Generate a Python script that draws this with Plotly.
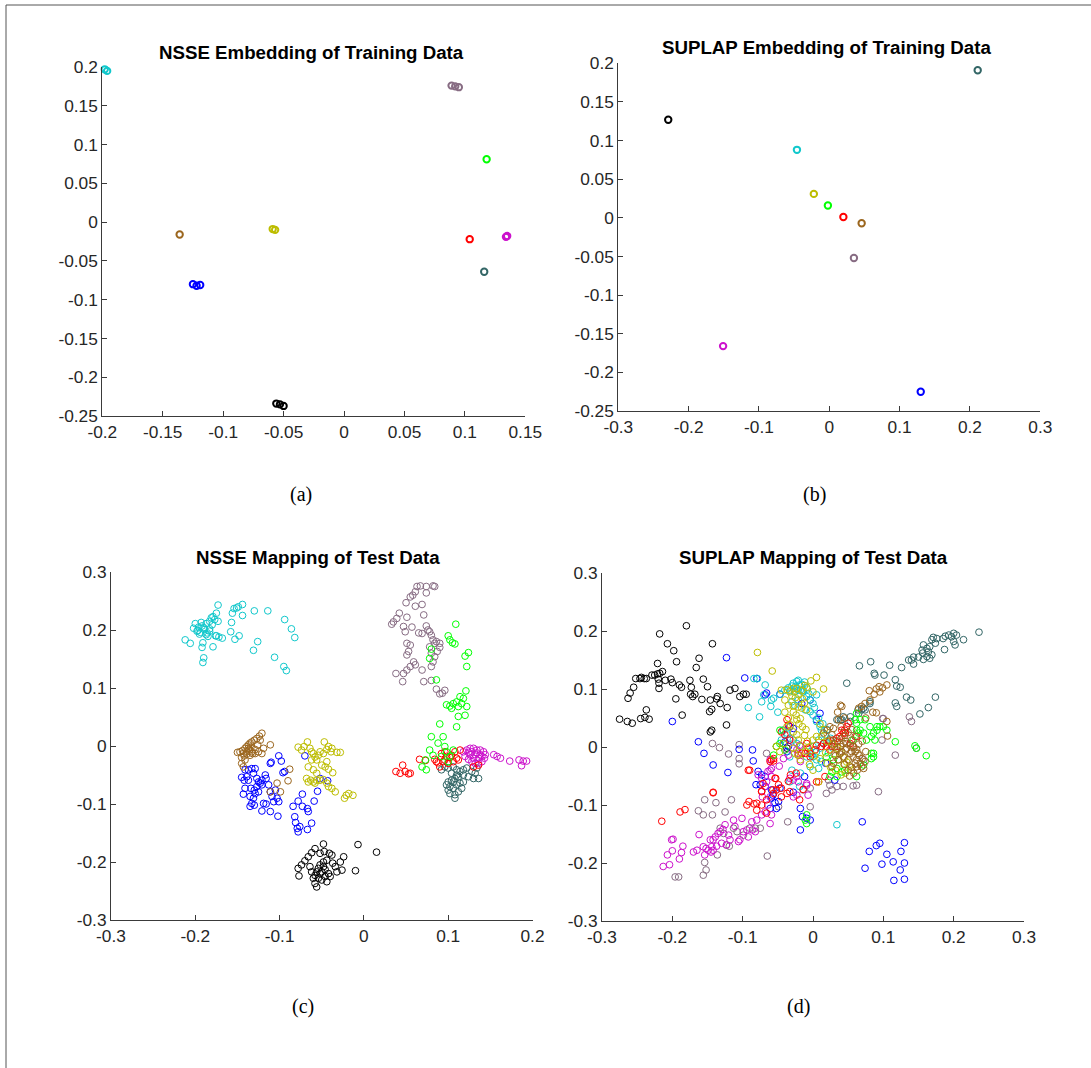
import plotly.graph_objects as go

W, H = 1091, 1068

# ---------------- class colours ----------------
CLASS_NAMES = ["black", "mauve", "teal", "blue", "cyan", "magenta", "red", "green", "olive", "brown"]
CLASS_COLORS = {
    "cyan": "#11C8CC", "brown": "#9B661E", "olive": "#BDBD00", "blue": "#0000FF",
    "black": "#000000", "mauve": "#876C83", "green": "#00FF00", "red": "#FF0000",
    "magenta": "#CC11CC", "teal": "#336666",
}

# ---------------- (a) NSSE embedding of training data ----------------
a_cyan = [(-0.198, 0.197), (-0.196, 0.195)]
a_mauve = [(0.089, 0.176), (0.092, 0.175), (0.095, 0.174)]
a_green = [(0.118, 0.081)]
a_brown = [(-0.136, -0.016)]
a_olive = [(-0.059, -0.009), (-0.057, -0.010)]
a_red = [(0.104, -0.022)]
a_magenta = [(0.134, -0.019), (0.135, -0.018)]
a_teal = [(0.116, -0.064)]
a_blue = [(-0.125, -0.080), (-0.122, -0.082), (-0.119, -0.081)]
a_black = [(-0.056, -0.234), (-0.053, -0.235), (-0.050, -0.237)]

# ---------------- (b) SUPLAP embedding of training data ----------------
b_teal = [(0.211, 0.191)]
b_black = [(-0.229, 0.127)]
b_cyan = [(-0.046, 0.088)]
b_olive = [(-0.022, 0.031)]
b_green = [(-0.002, 0.016)]
b_red = [(0.020, 0.001)]
b_brown = [(0.046, -0.007)]
b_mauve = [(0.035, -0.052)]
b_magenta = [(-0.151, -0.166)]
b_blue = [(0.130, -0.225)]

# ---------------- (c) NSSE mapping of test data ----------------
c_cyan = [(-0.212, 0.183), (-0.206, 0.177), (-0.202, 0.203), (-0.200, 0.211), (-0.198, 0.198),
          (-0.195, 0.193), (-0.193, 0.213), (-0.192, 0.207), (-0.190, 0.204), (-0.187, 0.211),
          (-0.192, 0.170), (-0.191, 0.178), (-0.191, 0.144), (-0.190, 0.152), (-0.187, 0.192),
          (-0.185, 0.189), (-0.183, 0.202), (-0.183, 0.215), (-0.181, 0.221), (-0.180, 0.209),
          (-0.179, 0.171), (-0.179, 0.223), (-0.177, 0.218), (-0.176, 0.190), (-0.175, 0.229),
          (-0.173, 0.215), (-0.173, 0.243), (-0.175, 0.190), (-0.172, 0.188), (-0.168, 0.186),
          (-0.158, 0.197), (-0.157, 0.213), (-0.156, 0.229), (-0.154, 0.237), (-0.153, 0.184),
          (-0.151, 0.238), (-0.149, 0.240), (-0.148, 0.190), (-0.144, 0.244), (-0.144, 0.225),
          (-0.131, 0.165), (-0.130, 0.233), (-0.126, 0.180), (-0.114, 0.233), (-0.106, 0.153),
          (-0.094, 0.218), (-0.095, 0.137), (-0.092, 0.130), (-0.086, 0.202), (-0.082, 0.187),
          (-0.197, 0.199), (-0.194, 0.196), (-0.189, 0.201), (-0.186, 0.195), (-0.183, 0.198),
          (-0.196, 0.205)]
c_brown = [(-0.150, -0.011), (-0.147, -0.010), (-0.144, -0.008), (-0.141, -0.004), (-0.139, -0.001),
           (-0.137, 0.002), (-0.135, 0.005), (-0.133, 0.007), (-0.130, 0.010), (-0.127, 0.013),
           (-0.124, 0.017), (-0.121, 0.022), (-0.123, 0.010), (-0.126, 0.002), (-0.129, -0.006),
           (-0.132, -0.013), (-0.135, -0.016), (-0.139, -0.014), (-0.142, -0.017), (-0.145, -0.020),
           (-0.136, -0.007), (-0.133, -0.010), (-0.129, -0.013), (-0.125, -0.010), (-0.121, -0.013),
           (-0.119, -0.004), (-0.111, 0.002), (-0.145, -0.030), (-0.143, -0.036), (-0.141, -0.024),
           (-0.088, -0.040), (-0.090, -0.060), (-0.103, -0.064), (-0.099, -0.079), (-0.111, -0.079),
           (-0.137, -0.004), (-0.134, -0.002), (-0.139, -0.010), (-0.143, -0.013)]
c_blue = [(-0.145, -0.054), (-0.142, -0.059), (-0.139, -0.053), (-0.137, -0.059), (-0.141, -0.041),
          (-0.137, -0.041), (-0.133, -0.039), (-0.129, -0.039), (-0.131, -0.047), (-0.127, -0.056),
          (-0.125, -0.062), (-0.123, -0.064), (-0.121, -0.059), (-0.117, -0.050), (-0.116, -0.056),
          (-0.127, -0.070), (-0.130, -0.076), (-0.134, -0.073), (-0.141, -0.073), (-0.143, -0.083),
          (-0.135, -0.087), (-0.131, -0.090), (-0.133, -0.099), (-0.135, -0.104), (-0.130, -0.102),
          (-0.125, -0.079), (-0.121, -0.067), (-0.113, -0.067), (-0.111, -0.079), (-0.109, -0.087),
          (-0.105, -0.076), (-0.103, -0.090), (-0.101, -0.096), (-0.107, -0.096), (-0.119, -0.099),
          (-0.116, -0.100), (-0.121, -0.112), (-0.111, -0.113), (-0.102, -0.121), (-0.129, -0.082),
          (-0.111, -0.030), (-0.110, -0.028), (-0.101, -0.017), (-0.098, -0.026), (-0.096, -0.046),
          (-0.094, -0.044), (-0.070, -0.017), (-0.052, -0.056), (-0.043, -0.060), (-0.055, -0.078),
          (-0.059, -0.095), (-0.073, -0.083), (-0.078, -0.095), (-0.084, -0.104), (-0.073, -0.104),
          (-0.067, -0.108), (-0.066, -0.113), (-0.082, -0.122), (-0.081, -0.132), (-0.079, -0.142),
          (-0.078, -0.148), (-0.067, -0.144), (-0.062, -0.133), (-0.076, -0.139)]
c_olive = [(-0.078, -0.002), (-0.074, -0.007), (-0.071, -0.001), (-0.067, 0.007), (-0.064, -0.004),
           (-0.062, -0.010), (-0.060, -0.013), (-0.058, -0.019), (-0.056, -0.024), (-0.054, -0.016),
           (-0.052, -0.010), (-0.048, -0.013), (-0.047, 0.007), (-0.044, -0.006), (-0.042, -0.001),
           (-0.039, -0.010), (-0.038, -0.004), (-0.032, -0.011), (-0.028, -0.011), (-0.044, -0.027),
           (-0.050, -0.033), (-0.046, -0.036), (-0.042, -0.040), (-0.037, -0.046), (-0.068, -0.056),
           (-0.066, -0.062), (-0.063, -0.059), (-0.060, -0.062), (-0.058, -0.064), (-0.056, -0.059),
           (-0.052, -0.059), (-0.048, -0.058), (-0.044, -0.064), (-0.042, -0.070), (-0.038, -0.073),
           (-0.034, -0.079), (-0.023, -0.090), (-0.021, -0.085), (-0.018, -0.082), (-0.013, -0.085),
           (-0.062, -0.024), (-0.066, -0.036), (-0.060, -0.041), (-0.056, -0.047)]
c_black = [(-0.077, -0.224), (-0.078, -0.211), (-0.074, -0.205), (-0.070, -0.198), (-0.066, -0.191),
           (-0.062, -0.184), (-0.058, -0.177), (-0.048, -0.169), (-0.052, -0.185), (-0.047, -0.182),
           (-0.041, -0.185), (-0.038, -0.188), (-0.024, -0.191), (-0.028, -0.200), (-0.037, -0.202),
           (-0.034, -0.208), (-0.032, -0.217), (-0.026, -0.214), (-0.044, -0.197), (-0.048, -0.200),
           (-0.052, -0.205), (-0.054, -0.211), (-0.056, -0.217), (-0.058, -0.223), (-0.060, -0.228),
           (-0.058, -0.237), (-0.056, -0.243), (-0.050, -0.231), (-0.046, -0.225), (-0.042, -0.220),
           (-0.040, -0.225), (-0.044, -0.234), (-0.052, -0.220), (-0.062, -0.217), (-0.064, -0.208),
           (-0.010, -0.215), (-0.007, -0.170), (0.015, -0.183), (-0.048, -0.208), (-0.050, -0.217),
           (-0.046, -0.213), (-0.054, -0.228)]
c_mauve = [(0.063, 0.275), (0.067, 0.276), (0.074, 0.275), (0.082, 0.276), (0.084, 0.275),
           (0.074, 0.264), (0.061, 0.266), (0.058, 0.260), (0.055, 0.257), (0.050, 0.247),
           (0.061, 0.241), (0.069, 0.244), (0.071, 0.226), (0.051, 0.222), (0.042, 0.229),
           (0.039, 0.220), (0.035, 0.214), (0.033, 0.210), (0.047, 0.206), (0.049, 0.197),
           (0.057, 0.205), (0.065, 0.195), (0.069, 0.194), (0.074, 0.207), (0.076, 0.200),
           (0.078, 0.197), (0.080, 0.191), (0.082, 0.183), (0.084, 0.177), (0.086, 0.180),
           (0.090, 0.177), (0.090, 0.170), (0.087, 0.163), (0.084, 0.154), (0.082, 0.145),
           (0.080, 0.137), (0.051, 0.177), (0.055, 0.174), (0.053, 0.163), (0.051, 0.157),
           (0.059, 0.145), (0.061, 0.140), (0.055, 0.137), (0.051, 0.131), (0.047, 0.125),
           (0.046, 0.111), (0.038, 0.125), (0.069, 0.131), (0.071, 0.111), (0.080, 0.113),
           (0.086, 0.098), (0.090, 0.090), (0.096, 0.096), (0.093, 0.091), (0.078, 0.171),
           (0.080, 0.160)]
c_green = [(0.109, 0.210), (0.100, 0.190), (0.102, 0.183), (0.105, 0.178), (0.108, 0.176),
           (0.080, 0.167), (0.078, 0.151), (0.124, 0.161), (0.120, 0.155), (0.122, 0.137),
           (0.086, 0.114), (0.121, 0.095), (0.114, 0.085), (0.118, 0.082), (0.110, 0.076),
           (0.106, 0.073), (0.102, 0.069), (0.098, 0.071), (0.104, 0.065), (0.112, 0.068),
           (0.116, 0.073), (0.122, 0.068), (0.120, 0.053), (0.112, 0.051), (0.110, 0.033),
           (0.090, 0.038), (0.080, 0.016), (0.094, 0.016), (0.088, 0.005), (0.078, -0.007),
           (0.082, -0.016), (0.073, -0.024), (0.069, -0.036), (0.074, -0.041), (0.092, -0.018),
           (0.098, -0.010), (0.102, -0.018), (0.100, -0.027), (0.106, -0.007), (0.096, -0.001)]
c_red = [(0.046, -0.033), (0.038, -0.044), (0.043, -0.047), (0.049, -0.044), (0.053, -0.048),
         (0.055, -0.047), (0.066, -0.023), (0.073, -0.025), (0.084, -0.023), (0.088, -0.029),
         (0.092, -0.013), (0.096, -0.010), (0.098, -0.018), (0.104, -0.016), (0.108, -0.010),
         (0.110, -0.021), (0.112, -0.024), (0.094, -0.027), (0.100, -0.030), (0.106, -0.027),
         (0.114, -0.007), (0.130, -0.036), (0.136, -0.033), (0.090, -0.036), (0.086, -0.027),
         (0.102, -0.020), (0.096, -0.024)]
c_magenta = [(0.118, -0.010), (0.122, -0.007), (0.126, -0.004), (0.130, -0.004), (0.134, -0.007),
             (0.138, -0.007), (0.142, -0.010), (0.144, -0.015), (0.143, -0.021), (0.140, -0.027),
             (0.136, -0.030), (0.132, -0.030), (0.128, -0.027), (0.124, -0.023), (0.120, -0.018),
             (0.126, -0.015), (0.132, -0.015), (0.138, -0.015), (0.130, -0.021), (0.136, -0.021),
             (0.124, -0.011), (0.154, -0.015), (0.158, -0.018), (0.162, -0.021), (0.173, -0.026),
             (0.184, -0.024), (0.189, -0.026), (0.193, -0.026), (0.187, -0.034), (0.128, -0.010),
             (0.134, -0.012), (0.140, -0.018)]
c_teal = [(0.096, -0.036), (0.100, -0.038), (0.106, -0.036), (0.110, -0.041), (0.114, -0.044),
          (0.118, -0.041), (0.122, -0.038), (0.128, -0.044), (0.132, -0.047), (0.136, -0.056),
          (0.130, -0.056), (0.124, -0.053), (0.118, -0.050), (0.112, -0.053), (0.108, -0.056),
          (0.104, -0.059), (0.100, -0.062), (0.098, -0.067), (0.102, -0.070), (0.106, -0.073),
          (0.110, -0.067), (0.114, -0.064), (0.118, -0.062), (0.116, -0.073), (0.112, -0.079),
          (0.108, -0.084), (0.102, -0.082), (0.108, -0.090), (0.100, -0.076), (0.134, -0.038),
          (0.092, -0.041), (0.104, -0.047), (0.110, -0.050), (0.106, -0.062)]

# ---------------- (d) SUPLAP mapping of test data ----------------
d_black = [(-0.275, 0.048), (-0.264, 0.044), (-0.257, 0.041), (-0.245, 0.049), (-0.239, 0.051),
           (-0.233, 0.048), (-0.237, 0.064), (-0.263, 0.084), (-0.260, 0.093), (-0.255, 0.103),
           (-0.252, 0.118), (-0.246, 0.118), (-0.244, 0.120), (-0.240, 0.118), (-0.237, 0.118),
           (-0.229, 0.124), (-0.225, 0.124), (-0.221, 0.126), (-0.218, 0.127), (-0.214, 0.130),
           (-0.220, 0.117), (-0.210, 0.115), (-0.202, 0.117), (-0.200, 0.111), (-0.190, 0.107),
           (-0.187, 0.103), (-0.175, 0.115), (-0.173, 0.103), (-0.174, 0.091), (-0.171, 0.087),
           (-0.168, 0.091), (-0.158, 0.082), (-0.150, 0.104), (-0.156, 0.117), (-0.162, 0.153),
           (-0.166, 0.137), (-0.194, 0.147), (-0.198, 0.166), (-0.207, 0.178), (-0.218, 0.195),
           (-0.221, 0.144), (-0.219, 0.101), (-0.195, 0.083), (-0.186, 0.055), (-0.180, 0.209),
           (-0.143, 0.178), (-0.146, 0.081), (-0.144, 0.065), (-0.147, 0.061), (-0.144, 0.029),
           (-0.146, 0.026), (-0.137, 0.083), (-0.136, 0.087), (-0.132, 0.075), (-0.122, 0.068),
           (-0.123, 0.038), (-0.118, 0.098), (-0.111, 0.101), (-0.104, 0.087), (-0.099, 0.091),
           (-0.095, 0.091), (-0.219, 0.110), (-0.037, -0.002)]
d_teal = [(0.236, 0.198), (0.214, 0.185), (0.204, 0.193), (0.200, 0.196), (0.197, 0.190),
          (0.193, 0.193), (0.188, 0.191), (0.185, 0.187), (0.200, 0.182), (0.202, 0.176),
          (0.187, 0.168), (0.176, 0.187), (0.171, 0.189), (0.169, 0.185), (0.174, 0.179),
          (0.166, 0.173), (0.162, 0.170), (0.157, 0.176), (0.155, 0.167), (0.156, 0.162),
          (0.162, 0.156), (0.166, 0.153), (0.169, 0.159), (0.164, 0.164), (0.157, 0.151),
          (0.150, 0.155), (0.143, 0.155), (0.140, 0.150), (0.143, 0.143), (0.136, 0.150),
          (0.126, 0.137), (0.109, 0.141), (0.101, 0.124), (0.087, 0.127), (0.088, 0.124),
          (0.082, 0.147), (0.066, 0.140), (0.048, 0.110), (0.117, 0.116), (0.119, 0.105),
          (0.124, 0.103), (0.133, 0.086), (0.139, 0.081), (0.117, 0.076), (0.119, 0.070),
          (0.152, 0.057), (0.164, 0.068), (0.174, 0.086), (0.072, 0.067), (0.069, 0.064),
          (0.065, 0.058), (0.039, 0.047), (0.053, 0.052), (0.081, 0.075), (0.074, 0.064),
          (0.064, 0.064), (0.081, 0.078), (0.043, 0.052), (0.034, 0.047), (0.041, 0.047),
          (0.053, 0.044)]
d_olive = [(-0.079, 0.163), (-0.058, 0.131), (-0.045, 0.098), (-0.037, 0.099), (-0.033, 0.095),
           (-0.028, 0.101), (-0.023, 0.101), (-0.016, 0.097), (-0.009, 0.103), (-0.003, 0.114),
           (-0.040, 0.081), (-0.035, 0.072), (-0.028, 0.071), (-0.021, 0.069), (-0.016, 0.067),
           (-0.009, 0.064), (-0.037, 0.035), (-0.032, 0.038), (-0.023, 0.047), (-0.018, 0.049),
           (-0.028, 0.026), (-0.023, 0.021), (-0.021, 0.012), (-0.018, 0.001), (-0.021, -0.014),
           (-0.018, -0.022), (0.000, 0.012), (0.005, 0.018), (-0.042, 0.006), (-0.052, 0.001),
           (-0.047, -0.008), (-0.028, -0.002), (-0.026, -0.011), (0.012, 0.018), (0.020, 0.010),
           (0.028, 0.005), (0.035, -0.002), (0.040, -0.010), (0.045, -0.018), (0.048, -0.026),
           (0.052, -0.033), (0.044, -0.030), (0.036, -0.022), (0.030, -0.012), (0.055, -0.040),
           (0.046, -0.045), (0.010, 0.040), (0.016, 0.030), (0.005, 0.120), (0.015, 0.100),
           (-0.005, -0.030), (0.000, -0.040), (0.008, -0.060), (-0.030, 0.088), (-0.025, 0.085),
           (-0.020, 0.090), (-0.015, 0.083), (-0.012, 0.076), (-0.028, 0.060), (-0.024, 0.055),
           (-0.020, 0.040), (-0.015, 0.035), (-0.010, 0.030), (-0.012, 0.020), (-0.008, 0.010),
           (-0.005, 0.000), (-0.010, -0.008), (0.002, -0.015), (0.010, -0.020), (0.020, -0.028),
           (0.025, -0.035), (0.032, -0.040), (0.040, -0.048), (0.018, -0.010), (-0.035, 0.050),
           (-0.040, 0.060), (-0.012, 0.106), (0.000, 0.095)]
d_brown = [(0.080, 0.097), (0.094, 0.104), (0.105, 0.107), (0.099, 0.102), (0.087, 0.091),
           (0.081, 0.081), (0.074, 0.075), (0.069, 0.070), (0.065, 0.067), (0.090, 0.059),
           (0.105, 0.044), (0.106, 0.019), (0.039, 0.072), (0.041, 0.070), (0.036, 0.047),
           (0.024, 0.035), (0.029, 0.032), (0.020, 0.029), (0.015, 0.024), (0.027, 0.021),
           (0.024, 0.012), (0.031, 0.006), (0.039, 0.001), (0.046, -0.005), (0.053, -0.011),
           (0.057, -0.017), (0.062, -0.022), (0.067, -0.028), (0.048, 0.006), (0.055, 0.012),
           (0.060, 0.018), (0.043, -0.017), (0.036, -0.022), (0.029, -0.028), (0.050, -0.022),
           (0.041, -0.008), (0.034, -0.005), (0.048, -0.002), (0.053, 0.003), (0.043, 0.006),
           (0.055, -0.008), (0.060, -0.008), (0.064, -0.011), (0.069, -0.034), (0.072, -0.037),
           (0.062, -0.034), (0.027, -0.034), (0.045, 0.050), (0.035, 0.060), (0.090, 0.100),
           (0.095, 0.095), (0.030, 0.000), (0.035, 0.010), (0.040, 0.015), (0.045, 0.020),
           (0.050, 0.025), (0.055, 0.030), (0.058, 0.000), (0.062, -0.004), (0.066, -0.015),
           (0.070, -0.020), (0.074, -0.025), (0.060, -0.028), (0.055, -0.035), (0.050, -0.040),
           (0.045, -0.030), (0.038, -0.012), (0.032, -0.015), (0.065, 0.005), (0.070, 0.010),
           (0.075, -0.008), (0.052, -0.050), (0.058, -0.045), (0.063, -0.040), (0.046, 0.010),
           (0.040, 0.035), (0.075, 0.050), (0.085, 0.060)]
d_cyan = [(-0.084, 0.118), (-0.079, 0.118), (-0.068, 0.107), (-0.073, 0.078), (-0.092, 0.068),
          (-0.076, 0.052), (-0.059, 0.081), (-0.056, 0.084), (-0.047, 0.091), (-0.040, 0.098),
          (-0.033, 0.097), (-0.023, 0.101), (-0.021, 0.115), (-0.018, 0.098), (-0.014, 0.095),
          (-0.009, 0.087), (-0.004, 0.081), (0.000, 0.075), (0.005, 0.090), (-0.030, 0.078),
          (-0.026, 0.072), (-0.021, 0.081), (-0.043, 0.029), (-0.037, 0.024), (-0.028, 0.012),
          (-0.023, 0.006), (-0.018, 0.001), (-0.033, -0.017), (-0.030, -0.040), (-0.018, -0.045),
          (0.000, -0.017), (0.005, -0.022), (-0.004, -0.034), (-0.023, 0.113), (-0.019, 0.107),
          (-0.021, 0.098), (-0.026, 0.095), (-0.014, 0.098), (-0.011, 0.064), (-0.004, 0.061),
          (0.000, 0.055), (0.005, 0.044), (0.010, 0.035), (0.012, 0.029), (0.017, 0.021),
          (0.008, 0.012), (0.000, 0.001), (-0.004, -0.008), (-0.009, -0.017), (-0.002, -0.014),
          (0.005, -0.008), (0.010, -0.002), (0.015, 0.006), (0.019, 0.009), (0.008, -0.037),
          (-0.033, -0.060), (-0.019, -0.068), (0.034, -0.134), (-0.037, 0.021), (-0.045, 0.012),
          (-0.030, 0.105), (-0.028, 0.110), (-0.025, 0.104), (-0.016, 0.108), (-0.012, 0.112),
          (-0.035, 0.102), (-0.008, 0.100), (-0.006, 0.092), (0.002, 0.068), (0.008, 0.050),
          (0.014, 0.040), (0.020, 0.030), (0.025, 0.015), (0.028, 0.005), (0.022, -0.010),
          (0.012, -0.025), (-0.050, 0.060), (-0.060, 0.070), (-0.070, 0.090)]
d_blue = [(-0.123, 0.154), (-0.097, 0.119), (-0.080, 0.118), (-0.068, 0.090), (-0.066, 0.093),
          (-0.047, 0.091), (-0.200, 0.044), (-0.163, 0.009), (-0.155, -0.011), (-0.142, -0.031),
          (-0.121, -0.044), (-0.086, -0.005), (-0.085, -0.024), (-0.078, -0.042), (-0.073, -0.048),
          (-0.068, -0.051), (-0.081, -0.065), (-0.075, -0.065), (-0.068, -0.068), (-0.059, -0.074),
          (-0.047, -0.071), (-0.042, 0.006), (-0.040, 0.009), (-0.035, 0.001), (-0.037, -0.008),
          (-0.033, 0.035), (-0.028, 0.032), (-0.016, 0.075), (-0.004, 0.081), (0.010, 0.058),
          (0.005, 0.047), (-0.105, -0.004), (-0.057, -0.083), (-0.059, -0.088), (-0.054, -0.096),
          (-0.049, -0.094), (-0.061, -0.106), (-0.052, -0.106), (-0.028, -0.078), (-0.012, -0.051),
          (-0.018, -0.106), (-0.015, -0.120), (-0.009, -0.123), (-0.004, -0.126), (-0.018, -0.143),
          (0.018, -0.028), (0.031, -0.057), (0.070, -0.129), (0.095, -0.166), (0.114, -0.198),
          (0.124, -0.212), (0.074, -0.209), (0.098, -0.202), (0.115, -0.230), (0.130, -0.228),
          (0.130, -0.200), (0.080, -0.180), (0.090, -0.170), (0.105, -0.185), (0.125, -0.180),
          (0.130, -0.165)]
d_magenta = [(-0.213, -0.206), (-0.204, -0.203), (-0.207, -0.186), (-0.200, -0.179), (-0.190, -0.193),
             (-0.187, -0.182), (-0.201, -0.160), (-0.199, -0.159), (-0.185, -0.171), (-0.170, -0.181),
             (-0.165, -0.178), (-0.162, -0.151), (-0.156, -0.172), (-0.152, -0.175), (-0.149, -0.178),
             (-0.145, -0.181), (-0.154, -0.186), (-0.144, -0.172), (-0.142, -0.160), (-0.139, -0.155),
             (-0.135, -0.149), (-0.132, -0.146), (-0.128, -0.142), (-0.125, -0.134), (-0.120, -0.152),
             (-0.118, -0.160), (-0.123, -0.169), (-0.130, -0.166), (-0.137, -0.171), (-0.142, -0.178),
             (-0.146, -0.160), (-0.113, -0.126), (-0.111, -0.137), (-0.104, -0.160), (-0.106, -0.163),
             (-0.099, -0.146), (-0.101, -0.123), (-0.094, -0.143), (-0.092, -0.155), (-0.087, -0.129),
             (-0.086, -0.143), (-0.082, -0.146), (-0.080, -0.126), (-0.073, -0.117), (-0.068, -0.112),
             (-0.061, -0.132), (-0.059, -0.117), (-0.064, -0.100), (-0.072, -0.086), (-0.068, -0.068),
             (-0.066, -0.060), (-0.061, -0.040), (-0.059, -0.051), (-0.048, -0.033), (-0.042, -0.020),
             (-0.035, -0.014), (-0.023, -0.005), (-0.018, -0.025), (-0.028, -0.057), (-0.009, -0.066),
             (-0.007, -0.083), (-0.023, -0.051), (-0.019, 0.003), (-0.028, -0.002), (-0.021, -0.011),
             (-0.061, -0.022), (-0.059, -0.037), (-0.064, -0.042), (-0.078, -0.048), (-0.073, -0.054),
             (-0.033, -0.054), (-0.021, -0.060), (-0.009, -0.063), (-0.023, -0.083), (-0.028, -0.086),
             (-0.061, -0.086)]
d_mauve = [(-0.143, 0.006), (-0.133, -0.001), (-0.120, -0.012), (-0.105, 0.004), (-0.105, -0.020),
           (-0.105, -0.029), (-0.066, -0.011), (-0.154, -0.091), (-0.138, -0.096), (-0.116, -0.091),
           (-0.125, -0.112), (-0.163, -0.110), (-0.156, -0.117), (-0.143, -0.117), (-0.132, -0.140),
           (-0.127, -0.149), (-0.113, -0.140), (-0.108, -0.146), (-0.099, -0.152), (-0.090, -0.140),
           (-0.082, -0.140), (-0.075, -0.140), (-0.196, -0.224), (-0.191, -0.224), (-0.156, -0.221),
           (-0.152, -0.212), (-0.154, -0.199), (-0.136, -0.186), (-0.123, -0.169), (-0.119, -0.171),
           (-0.065, -0.188), (-0.036, -0.129), (-0.049, -0.103), (-0.014, -0.074), (-0.004, -0.071),
           (-0.004, -0.103), (-0.042, 0.029), (-0.033, 0.015), (-0.052, 0.001), (0.019, -0.080),
           (0.027, -0.074), (0.034, -0.068), (0.043, -0.068), (0.057, -0.067), (0.062, -0.066),
           (0.024, -0.066), (0.022, -0.057), (0.098, 0.012), (0.100, 0.049), (0.093, -0.077),
           (0.137, 0.052), (0.140, 0.044), (0.117, -0.014), (0.147, -0.002), (0.099, 0.049),
           (0.072, -0.022)]
d_red = [(-0.215, -0.128), (-0.189, -0.112), (-0.182, -0.108), (-0.142, -0.078), (-0.092, -0.040),
         (-0.091, -0.094), (-0.084, -0.098), (-0.073, -0.076), (-0.071, -0.063), (-0.066, -0.091),
         (-0.059, -0.022), (-0.056, -0.024), (-0.053, -0.054), (-0.057, -0.074), (-0.052, -0.074),
         (-0.045, -0.071), (-0.037, -0.080), (-0.035, -0.059), (-0.032, -0.048), (-0.024, -0.045),
         (-0.021, -0.014), (-0.016, -0.011), (-0.014, -0.073), (-0.004, -0.011), (0.005, -0.060),
         (-0.073, -0.100), (-0.080, -0.109), (-0.094, -0.100), (-0.037, 0.047), (-0.035, 0.038),
         (-0.045, 0.026), (-0.040, 0.021), (-0.033, 0.012), (-0.009, 0.006), (-0.007, -0.002),
         (-0.011, -0.011), (-0.004, -0.017), (0.003, -0.005), (0.005, 0.003), (0.012, 0.001),
         (0.015, 0.006), (0.019, 0.001), (0.024, -0.005), (0.029, 0.012), (0.034, 0.015),
         (0.038, 0.018), (0.043, 0.024), (0.045, 0.029), (0.048, 0.035), (0.050, 0.041),
         (0.053, 0.006), (0.057, 0.001), (0.062, 0.018), (0.027, 0.001), (0.022, 0.009),
         (0.034, 0.001), (-0.056, -0.020), (-0.061, -0.025), (-0.090, -0.040), (-0.054, -0.054),
         (-0.049, -0.065), (-0.073, -0.077), (-0.056, -0.080), (-0.045, -0.086), (-0.033, -0.077),
         (-0.019, -0.091), (0.017, -0.051), (0.008, -0.060), (-0.142, -0.079), (-0.080, -0.097),
         (-0.066, -0.114), (0.041, 0.029), (0.046, 0.024)]
d_green = [(-0.052, 0.001), (-0.056, -0.014), (-0.040, -0.005), (-0.047, 0.029), (0.062, 0.041),
           (0.067, 0.029), (0.072, 0.024), (0.076, 0.012), (0.083, 0.018), (0.088, 0.012),
           (0.091, 0.035), (0.086, -0.011), (0.083, -0.020), (0.072, -0.031), (0.034, -0.037),
           (0.027, -0.043), (0.041, -0.043), (0.045, -0.040), (0.024, -0.051), (0.034, -0.051),
           (0.062, -0.051), (-0.009, -0.117), (-0.009, -0.132), (-0.011, -0.126), (0.029, -0.022),
           (0.019, -0.017), (0.060, 0.047), (0.105, 0.029), (0.100, 0.035), (0.062, 0.058),
           (0.067, 0.047), (0.074, 0.047), (0.081, 0.035), (0.091, 0.029), (0.095, 0.035),
           (0.086, 0.024), (0.117, 0.009), (0.145, 0.002), (0.147, -0.002), (0.161, -0.015),
           (0.083, -0.011), (0.086, -0.017), (0.062, 0.029), (0.065, 0.024), (0.057, 0.012),
           (-0.047, 0.006)]

# ---------------- axis ticks ----------------
A_XTICKS = [-0.2, -0.15, -0.1, -0.05, 0, 0.05, 0.1, 0.15]
A_XTEXT = ["-0.2", "-0.15", "-0.1", "-0.05", "0", "0.05", "0.1", "0.15"]
AB_YTICKS = [0.2, 0.15, 0.1, 0.05, 0, -0.05, -0.1, -0.15, -0.2, -0.25]
AB_YTEXT = ["0.2", "0.15", "0.1", "0.05", "0", "-0.05", "-0.1", "-0.15", "-0.2", "-0.25"]
BD_XTICKS = [-0.3, -0.2, -0.1, 0, 0.1, 0.2, 0.3]
BD_XTEXT = ["-0.3", "-0.2", "-0.1", "0", "0.1", "0.2", "0.3"]
C_XTICKS = [-0.3, -0.2, -0.1, 0, 0.1, 0.2]
C_XTEXT = ["-0.3", "-0.2", "-0.1", "0", "0.1", "0.2"]
CD_YTICKS = [0.3, 0.2, 0.1, 0, -0.1, -0.2, -0.3]
CD_YTEXT = ["0.3", "0.2", "0.1", "0", "-0.1", "-0.2", "-0.3"]

TITLES = ["NSSE Embedding of Training Data", "SUPLAP Embedding of Training Data",
          "NSSE Mapping of Test Data", "SUPLAP Mapping of Test Data"]
CAPTIONS = ["(a)", "(b)", "(c)", "(d)"]

panels = [
    dict(data=dict(cyan=a_cyan, mauve=a_mauve, green=a_green, brown=a_brown, olive=a_olive, red=a_red,
                   magenta=a_magenta, teal=a_teal, blue=a_blue, black=a_black),
         px=(102.3, 525.3), py=(67.0, 416.0), xr=[-0.2, 0.15], yr=[-0.25, 0.2],
         xt=(A_XTICKS, A_XTEXT), yt=(AB_YTICKS, AB_YTEXT), msize=6.4, mlw=2.0,
         title_xy=(311, 52), cap_xy=(301, 494)),
    dict(data=dict(teal=b_teal, black=b_black, cyan=b_cyan, olive=b_olive, green=b_green, red=b_red,
                   brown=b_brown, mauve=b_mauve, magenta=b_magenta, blue=b_blue),
         px=(618.3, 1040.3), py=(63.3, 411.0), xr=[-0.3, 0.3], yr=[-0.25, 0.2],
         xt=(BD_XTICKS, BD_XTEXT), yt=(AB_YTICKS, AB_YTEXT), msize=6.4, mlw=2.0,
         title_xy=(826, 47), cap_xy=(814, 494)),
    dict(data=dict(black=c_black, mauve=c_mauve, teal=c_teal, blue=c_blue, cyan=c_cyan, magenta=c_magenta,
                   red=c_red, green=c_green, olive=c_olive, brown=c_brown),
         px=(111.0, 532.5), py=(572.0, 920.0), xr=[-0.3, 0.2], yr=[-0.3, 0.3],
         xt=(C_XTICKS, C_XTEXT), yt=(CD_YTICKS, CD_YTEXT), msize=6.7, mlw=1.0,
         title_xy=(318, 557), cap_xy=(303, 1006)),
    dict(data=dict(black=d_black, mauve=d_mauve, teal=d_teal, blue=d_blue, cyan=d_cyan, magenta=d_magenta,
                   red=d_red, green=d_green, olive=d_olive, brown=d_brown),
         px=(602.0, 1024.0), py=(573.0, 921.0), xr=[-0.3, 0.3], yr=[-0.3, 0.3],
         xt=(BD_XTICKS, BD_XTEXT), yt=(CD_YTICKS, CD_YTEXT), msize=6.7, mlw=1.0,
         title_xy=(813, 557), cap_xy=(798, 1006)),
]

AXIS_COLOR = "#3a3a3a"
TICK_FONT = dict(family="Liberation Sans, Arial, Helvetica, sans-serif", size=17.3, color="#262626")

fig = go.Figure()
layout = dict(
    width=W, height=H, margin=dict(l=0, r=0, t=0, b=0),
    paper_bgcolor="white", plot_bgcolor="white", showlegend=False,
    annotations=[], shapes=[],
)

for i, p in enumerate(panels):
    n = "" if i == 0 else str(i + 1)
    xa, ya = "xaxis" + n, "yaxis" + n
    xref, yref = "x" + n, "y" + n
    for cname in CLASS_NAMES:
        pts = p["data"].get(cname, [])
        if not pts:
            continue
        fig.add_trace(go.Scatter(
            x=[q[0] for q in pts], y=[q[1] for q in pts], mode="markers",
            xaxis=xref, yaxis=yref, cliponaxis=False, hoverinfo="skip",
            marker=dict(symbol="circle-open", size=p["msize"], color=CLASS_COLORS[cname],
                        line=dict(width=p["mlw"], color=CLASS_COLORS[cname])),
        ))
    x0, x1 = p["px"]
    y0, y1 = p["py"]
    axis_common = dict(showline=True, linecolor=AXIS_COLOR, linewidth=1, ticks="inside", ticklen=5,
                       tickwidth=1, tickcolor=AXIS_COLOR, showgrid=False, zeroline=False,
                       tickfont=TICK_FONT, mirror=False, fixedrange=True, tickmode="array",
                       automargin=False)
    layout[xa] = dict(axis_common, domain=[x0 / W, x1 / W], range=p["xr"], anchor=yref,
                      tickvals=p["xt"][0], ticktext=p["xt"][1])
    layout[ya] = dict(axis_common, domain=[1 - y1 / H, 1 - y0 / H], range=p["yr"], anchor=xref,
                      tickvals=p["yt"][0], ticktext=p["yt"][1])
    tx, ty = p["title_xy"]
    layout["annotations"].append(dict(
        text="<b>%s</b>" % TITLES[i], x=tx / W, y=1 - ty / H, xref="paper", yref="paper",
        xanchor="center", yanchor="middle", showarrow=False,
        font=dict(family="Liberation Sans, Arial, Helvetica, sans-serif", size=18.7, color="#000000")))
    cx, cy = p["cap_xy"]
    layout["annotations"].append(dict(
        text=CAPTIONS[i], x=cx / W, y=1 - cy / H, xref="paper", yref="paper",
        xanchor="center", yanchor="middle", showarrow=False,
        font=dict(family="Liberation Serif, Times New Roman, serif", size=20, color="#000000")))

# page frame lines (top and left)
layout["shapes"].append(dict(type="line", xref="paper", yref="paper", x0=6 / W, x1=1.0,
                             y0=1 - 5 / H, y1=1 - 5 / H, line=dict(color="#555555", width=1)))
layout["shapes"].append(dict(type="line", xref="paper", yref="paper", x0=6 / W, x1=6 / W,
                             y0=0, y1=1 - 5 / H, line=dict(color="#555555", width=1)))

fig.update_layout(**layout)
fig.write_html(
    "out.html",
    config={"responsive": False, "displayModeBar": False},
    post_script="document.body.style.margin='0';document.body.style.padding='0';"
                "document.body.style.overflow='hidden';",
)
